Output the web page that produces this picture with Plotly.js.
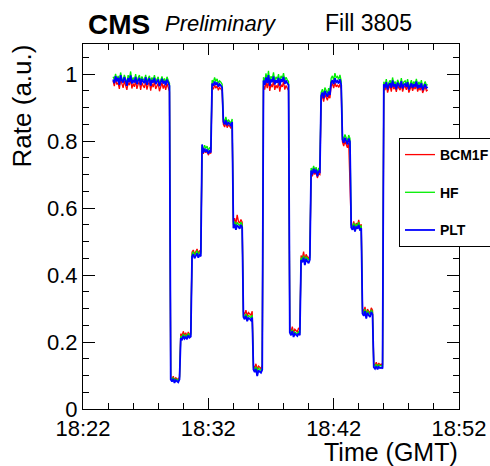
<!DOCTYPE html>
<html>
<head>
<meta charset="utf-8">
<script src="https://cdn.plot.ly/plotly-3.0.1.min.js"></script>
<style>html,body{margin:0;padding:0;background:#fff;}#chart{width:490px;height:466px;}</style>
</head>
<body>
<div id="chart"></div>
<script>
// Time axis: minutes after 18:22 GMT
var xTickVals = [0, 10, 20, 30];
var xTickText = ["18:22", "18:32", "18:42", "18:52"];
// Samples start 18:24:24 (2.4 min after 18:22), one sample every 6 s (0.1 min)
var sampleStart = 2.4;
var sampleStep = 0.1;

var seriesNames = ["BCM1F", "HF", "PLT"];

var bcm1f = [
0.980,0.964,0.988,0.969,0.975,0.956,0.985,0.972,0.959,0.980,
0.965,0.953,0.975,0.967,0.986,0.957,0.972,0.962,0.981,0.956,
0.970,0.978,0.953,0.975,0.965,0.959,0.980,0.954,0.969,0.977,
0.951,0.972,0.961,0.978,0.956,0.965,0.973,0.949,0.964,0.975,
0.957,0.969,0.953,0.972,0.961,0.948,
0.095,0.088,0.098,0.086,0.093,0.091,0.087,0.096,
0.225,0.218,0.232,0.220,0.228,0.216,0.230,0.222,0.226,
0.468,0.475,0.462,0.470,0.478,0.465,0.472,0.468,
0.770,0.762,0.775,0.765,0.772,0.758,0.768,0.763,
0.962,0.955,0.968,0.958,0.965,0.952,0.960,0.956,0.950,
0.850,0.842,0.856,0.840,0.848,0.845,0.838,0.851,
0.558,0.570,0.552,0.580,0.560,0.555,0.566,0.558,
0.290,0.282,0.295,0.278,0.288,0.285,0.280,0.292,
0.130,0.122,0.135,0.118,0.128,0.125,0.120,0.132,
0.966,0.954,0.977,0.958,0.982,0.950,0.970,0.961,0.980,0.953,0.967,0.958,0.975,0.948,0.969,0.962,0.978,0.954,0.966,0.958,0.951,
0.240,0.232,0.246,0.228,0.238,0.235,0.230,0.242,0.236,
0.458,0.450,0.470,0.445,0.462,0.455,0.448,0.460,
0.705,0.695,0.712,0.700,0.708,0.690,0.702,0.700,
0.925,0.935,0.918,0.940,0.930,0.922,0.938,0.928,
0.965,0.972,0.958,0.975,0.962,0.968,0.960,0.970,0.955,
0.798,0.785,0.800,0.790,0.780,0.795,0.650,
0.550,0.545,0.560,0.540,0.555,0.548,0.565,0.542,0.552,
0.300,0.290,0.305,0.282,0.298,0.292,0.286,0.302,0.295,
0.135,0.130,0.140,0.128,0.137,0.132,0.134,0.131,
0.961,0.952,0.969,0.945,0.958,0.966,0.948,0.974,0.955,0.963,
0.947,0.968,0.958,0.952,0.972,0.948,0.961,0.964,0.953,0.969,
0.945,0.960,0.966,0.950,0.963,0.955,0.971,0.948,0.961,0.952,
0.966,0.944,0.956,0.963,0.950,0.953
];

var hf = [
0.992,0.984,1.001,0.982,0.995,0.976,1.005,0.987,0.981,0.998,
0.985,0.974,0.997,0.984,1.008,0.979,0.990,0.982,1.000,0.977,
0.989,0.997,0.976,0.993,0.985,0.981,0.998,0.976,0.987,0.995,
0.973,0.990,0.982,0.997,0.977,0.985,0.992,0.971,0.984,0.993,
0.979,0.987,0.974,0.992,0.982,0.973,
0.092,0.086,0.094,0.084,0.090,0.088,0.085,0.093,
0.218,0.212,0.224,0.215,0.221,0.214,0.226,0.219,0.222,
0.462,0.470,0.458,0.466,0.473,0.460,0.468,0.464,
0.782,0.775,0.788,0.778,0.785,0.772,0.780,0.776,
0.982,0.975,0.990,0.978,0.986,0.972,0.980,0.976,0.970,
0.866,0.858,0.872,0.855,0.864,0.860,0.853,0.866,
0.550,0.560,0.545,0.557,0.553,0.547,0.558,0.551,
0.280,0.275,0.284,0.270,0.279,0.277,0.272,0.281,
0.124,0.117,0.126,0.112,0.122,0.119,0.115,0.124,
0.991,0.978,1.002,0.983,1.010,0.975,0.994,0.986,1.005,0.979,0.992,0.984,1.000,0.976,0.995,0.987,1.003,0.981,0.991,0.983,0.978,
0.232,0.226,0.237,0.222,0.230,0.228,0.224,0.231,0.226,
0.452,0.446,0.458,0.440,0.455,0.448,0.444,0.453,
0.720,0.710,0.726,0.714,0.722,0.705,0.718,0.716,
0.945,0.955,0.938,0.960,0.950,0.942,0.958,0.948,
0.988,0.995,0.982,1.003,0.989,0.993,0.984,0.998,0.980,
0.815,0.805,0.820,0.810,0.800,0.818,0.808,
0.550,0.543,0.556,0.540,0.553,0.546,0.558,0.542,0.548,
0.292,0.286,0.298,0.280,0.294,0.288,0.283,0.296,0.290,
0.131,0.127,0.134,0.125,0.132,0.129,0.130,0.128,
0.977,0.967,0.985,0.961,0.974,0.982,0.966,0.990,0.970,0.978,
0.962,0.983,0.974,0.967,0.988,0.964,0.977,0.980,0.969,0.985,
0.961,0.975,0.982,0.966,0.978,0.970,0.986,0.964,0.977,0.967,
0.982,0.959,0.972,0.978,0.966,0.969
];

var plt = [
0.984,0.973,0.994,0.978,0.989,0.968,0.997,0.981,0.975,0.991,
0.980,0.965,0.988,0.976,0.996,0.972,0.983,0.975,0.992,0.970,
0.981,0.989,0.967,0.986,0.978,0.973,0.991,0.968,0.980,0.988,
0.965,0.983,0.975,0.989,0.970,0.978,0.984,0.964,0.976,0.986,
0.972,0.980,0.967,0.984,0.975,0.965,
0.088,0.082,0.090,0.078,0.086,0.084,0.080,0.089,
0.212,0.205,0.218,0.210,0.215,0.208,0.220,0.213,0.216,
0.455,0.462,0.450,0.458,0.465,0.452,0.460,0.456,
0.790,0.765,0.778,0.768,0.775,0.762,0.770,0.766,
0.972,0.965,0.978,0.968,0.975,0.962,0.970,0.966,0.960,
0.858,0.850,0.862,0.847,0.855,0.852,0.845,0.857,
0.540,0.552,0.535,0.548,0.545,0.538,0.550,0.542,
0.275,0.268,0.278,0.262,0.272,0.270,0.265,0.273,
0.118,0.110,0.120,0.098,0.115,0.112,0.108,0.117,
0.981,0.968,0.990,0.973,0.997,0.965,0.984,0.976,0.993,0.969,0.982,0.974,0.989,0.966,0.985,0.977,0.992,0.971,0.981,0.973,0.968,
0.228,0.220,0.232,0.215,0.225,0.222,0.218,0.226,0.220,
0.445,0.438,0.452,0.430,0.448,0.440,0.435,0.446,
0.712,0.700,0.718,0.705,0.715,0.695,0.710,0.708,
0.935,0.945,0.928,0.950,0.940,0.932,0.948,0.938,
0.975,0.982,0.970,0.988,0.976,0.980,0.972,0.985,0.968,
0.805,0.795,0.810,0.800,0.790,0.808,0.798,
0.542,0.535,0.548,0.530,0.545,0.538,0.550,0.533,0.540,
0.285,0.278,0.292,0.270,0.288,0.280,0.275,0.290,0.282,
0.125,0.120,0.128,0.118,0.126,0.122,0.124,0.121,
0.970,0.960,0.976,0.954,0.967,0.973,0.959,0.981,0.963,0.970,
0.955,0.975,0.967,0.960,0.979,0.957,0.968,0.971,0.962,0.976,
0.954,0.967,0.973,0.959,0.970,0.963,0.978,0.957,0.968,0.960,
0.973,0.952,0.965,0.970,0.959,0.962
];

var seriesValues = [bcm1f, hf, plt];
var seriesColors = ["#ff0000", "#00ee00", "#0000ff"];
var seriesWidths = [1.3, 1.3, 1.8];

var traces = seriesValues.map(function (vals, i) {
  return {
    type: "scatter",
    mode: "lines",
    name: seriesNames[i],
    legendgroup: "g" + i,
    x0: sampleStart,
    dx: sampleStep,
    y: vals,
    line: { color: seriesColors[i], width: seriesWidths[i] },
    hoverinfo: "skip"
  };
});

var FONT = "Liberation Sans, Arial, Helvetica, sans-serif";

var layout = {
  width: 490,
  height: 466,
  margin: { l: 83, r: 31, t: 44, b: 57, autoexpand: false },
  paper_bgcolor: "#ffffff",
  plot_bgcolor: "#ffffff",
  font: { family: FONT, color: "#000000" },
  showlegend: true,
  title: {
    text: "<b>CMS</b>",
    font: { family: FONT, size: 28, color: "#000000" },
    xref: "container", x: 88 / 490, xanchor: "left",
    yref: "container", y: 1 - 24 / 466, yanchor: "middle"
  },
  xaxis: {
    range: [0, 30],
    tickmode: "array",
    tickvals: xTickVals,
    ticktext: xTickText,
    ticks: "inside",
    ticklen: 11,
    tickwidth: 1,
    tickcolor: "#000000",
    showline: true,
    linecolor: "#000000",
    linewidth: 1,
    mirror: "ticks",
    showgrid: false,
    zeroline: false,
    tickfont: { family: FONT, size: 22, color: "#000000" },
    minor: { tick0: 0, dtick: 2, ticks: "inside", ticklen: 6, tickcolor: "#000000", showgrid: false }
  },
  yaxis: {
    range: [0, 1.09],
    tick0: 0,
    dtick: 0.2,
    ticks: "inside",
    ticklen: 12,
    tickwidth: 1,
    tickcolor: "#000000",
    showline: true,
    linecolor: "#000000",
    linewidth: 1,
    mirror: "ticks",
    showgrid: false,
    zeroline: false,
    tickfont: { family: FONT, size: 22, color: "#000000" },
    minor: { tick0: 0, dtick: 0.05, ticks: "inside", ticklen: 6, tickcolor: "#000000", showgrid: false }
  },
  legend: {
    x: 0.8404, xanchor: "left",
    y: 0.7425, yanchor: "top",
    bgcolor: "#ffffff",
    bordercolor: "#000000",
    borderwidth: 1,
    tracegroupgap: 16.5,
    font: { family: FONT, size: 14, color: "#000000", weight: "bold" }
  },
  annotations: [
    { text: "<i>Preliminary</i>", xref: "paper", yref: "paper", x: 0.2128, y: 1.0575,
      xanchor: "left", yanchor: "middle", showarrow: false,
      font: { family: FONT, size: 22, color: "#000000" } },
    { text: "Fill 3805", xref: "paper", yref: "paper", x: 0.638, y: 1.0575,
      xanchor: "left", yanchor: "middle", showarrow: false,
      font: { family: FONT, size: 23, color: "#000000" } },
    { text: "Time (GMT)", xref: "paper", yref: "paper", x: 1, y: -0.1178,
      xanchor: "right", yanchor: "middle", showarrow: false, borderpad: 0,
      font: { family: FONT, size: 25, color: "#000000" } },
    { text: "Rate (a.u.)", xref: "paper", yref: "paper", x: -0.1622, y: 1.003,
      xanchor: "center", yanchor: "top", textangle: -90, showarrow: false,
      font: { family: FONT, size: 26, color: "#000000" } }
  ]
};

Plotly.newPlot("chart", traces, layout, { staticPlot: true, displayModeBar: false });
</script>
</body>
</html>
